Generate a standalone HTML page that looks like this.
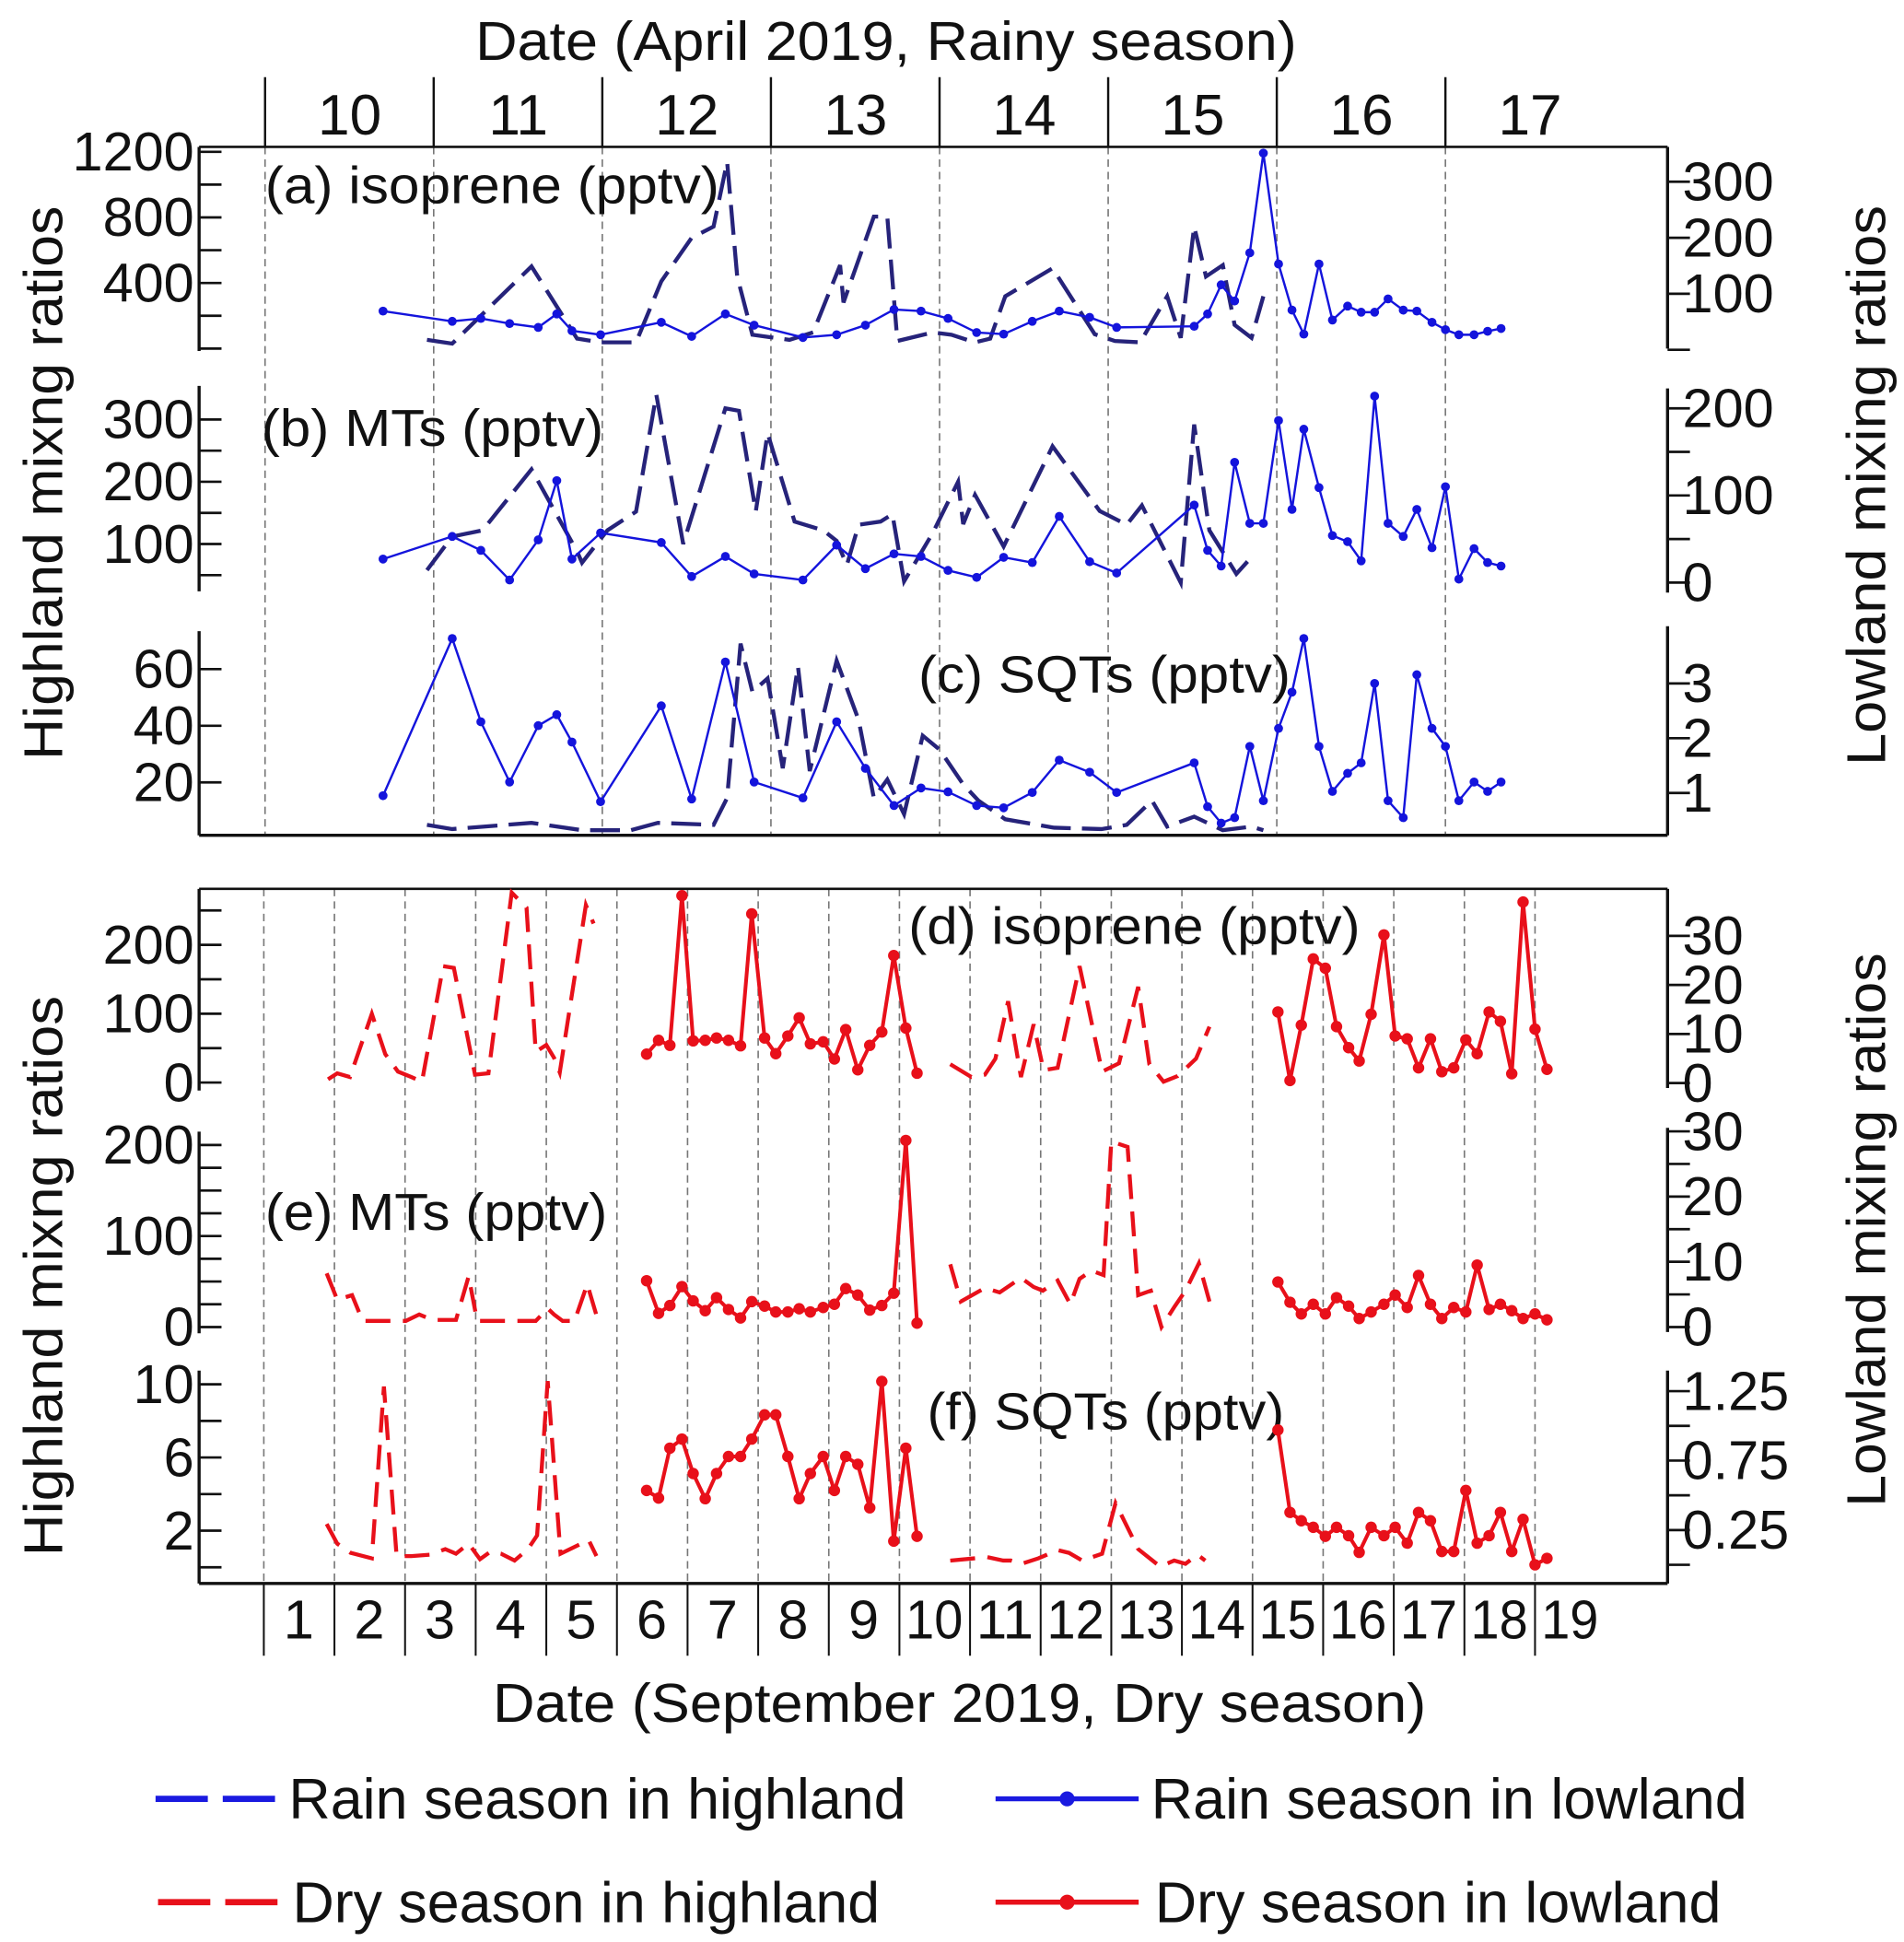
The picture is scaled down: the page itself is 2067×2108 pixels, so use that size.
<!DOCTYPE html>
<html><head><meta charset="utf-8">
<style>
html,body{margin:0;padding:0;background:#fff;}
svg{display:block;}
text{font-family:"Liberation Sans",Arial,sans-serif;fill:#111;}
</style></head>
<body>
<svg id="chart" xmlns="http://www.w3.org/2000/svg" width="2067" height="2108" viewBox="0 0 1530 1560" preserveAspectRatio="none">
<rect x="0" y="0" width="1530" height="1560" fill="#fff"/>
</svg>
<script>
// ===== April (rainy season) data =====
const aprDays = [10,11,12,13,14,15,16,17];
const aprLowT = [10.70,11.11,11.28,11.45,11.62,11.73,11.82,11.99,12.35,12.53,12.73,12.90,13.19,13.39,13.56,13.73,13.89,14.05,14.22,14.38,14.55,14.71,14.89,15.05,15.51,15.59,15.67,15.75,15.84,15.92,16.01,16.09,16.16,16.25,16.33,16.42,16.50,16.58,16.66,16.75,16.83,16.92,17.00,17.08,17.17,17.25,17.33];
const isoLowA = [69,51,56,47,40,64,34,27,49,24,64,44,22,27,44,72,69,56,31,28,51,69,58,40,42,64,116,87,173,351,153,71,28,153,53,78,67,67,91,71,69,49,36,27,27,33,38];
const mtLowA = [27,53,37,3,49,117,27,57,46,7,30,10,3,43,16,33,30,14,6,29,23,76,24,11,89,37,19,138,68,68,186,84,176,109,54,47,25,214,68,53,84,40,110,4,39,23,19];
const sqtLowA = [0.95,3.82,2.30,1.20,2.23,2.43,1.93,0.84,2.59,0.89,3.39,1.20,0.91,2.30,1.45,0.77,1.09,1.02,0.77,0.73,1.01,1.60,1.38,1.01,1.55,0.75,0.45,0.55,1.85,0.86,2.18,2.84,3.82,1.85,1.03,1.36,1.55,3.0,0.86,0.55,3.16,2.18,1.85,0.86,1.20,1.03,1.20];
const isoHighT = [10.96,11.11,11.58,11.85,11.99,12.20,12.35,12.53,12.66,12.74,12.80,12.89,13.11,13.25,13.41,13.43,13.61,13.69,13.75,13.96,14.07,14.21,14.30,14.39,14.67,14.92,15.04,15.19,15.35,15.43,15.51,15.58,15.68,15.75,15.85,15.92];
const isoHighV = [53,30,501,61,38,38,410,676,744,1139,440,84,53,99,509,281,805,805,46,99,84,38,61,319,490,87,46,38,319,65,744,440,509,144,65,319];
const mtHighT = [10.96,11.11,11.29,11.58,11.85,11.88,12.03,12.20,12.32,12.48,12.73,12.81,12.91,12.98,13.14,13.31,13.39,13.45,13.52,13.65,13.72,13.79,13.96,14.11,14.14,14.21,14.38,14.67,14.95,15.11,15.20,15.43,15.51,15.60,15.76,15.85];
const mtHighV = [58,112,122,220,88,70,122,152,340,100,318,314,152,278,136,122,105,66,131,136,148,40,118,200,132,179,96,257,153,131,162,38,292,122,52,79];
const sqtHighT = [10.96,11.11,11.58,11.88,12.17,12.33,12.66,12.74,12.82,12.89,12.98,13.07,13.16,13.23,13.39,13.52,13.61,13.69,13.79,13.90,14.00,14.14,14.23,14.39,14.68,14.96,15.11,15.26,15.35,15.51,15.68,15.85,15.92];
const sqtHighV = [5.0,3.5,5.7,3.1,3.1,5.7,5.0,14.5,69,52,56.7,25,61,24,63,42,14.5,21,8.8,36.5,31.6,19.3,13.6,7.0,4.0,3.5,5.0,13.6,4.4,7.9,3.1,4.4,3.1];

// ===== September (dry season) data =====
const sepDays = [1,2,3,4,5,6,7,8,9,10,11,12,13,14,15,16,17,18,19];
const sepLowT = [6.42,6.59,6.75,6.92,7.08,7.25,7.41,7.58,7.75,7.91,8.09,8.25,8.42,8.58,8.74,8.92,9.08,9.24,9.41,9.58,9.75,9.92,10.09,10.25,15.36,15.53,15.69,15.86,16.03,16.19,16.36,16.51,16.68,16.86,17.02,17.19,17.35,17.52,17.68,17.85,18.02,18.18,18.35,18.51,18.67,18.83,19.00,19.17];
const isoLowS = [5.9,8.7,7.7,38.2,8.6,8.7,9.2,8.7,7.6,34.5,9.2,6.0,9.6,13.3,8.0,8.4,4.9,10.9,2.7,7.7,10.4,26.0,11.2,2.0,14.5,0.5,11.8,25.3,23.4,11.5,7.2,4.5,14.0,30.2,9.6,9.0,3.1,9.0,2.3,3.1,8.8,6.0,14.5,12.6,1.9,36.9,11.0,2.8];
const mtLowS = [7.1,2.1,3.3,6.2,4.0,2.5,4.5,2.7,1.4,3.9,3.2,2.3,2.3,2.8,2.3,3.0,3.5,5.9,4.9,2.6,3.3,5.2,28.6,0.6,6.9,3.8,2.0,3.5,2.0,4.5,3.2,1.3,2.3,3.5,4.9,3.0,7.9,3.5,1.3,3.0,2.3,9.5,2.7,3.5,2.5,1.3,2.0,1.1];
const sqtLowS = [0.535,0.48,0.84,0.905,0.657,0.476,0.657,0.78,0.78,0.905,1.08,1.08,0.78,0.476,0.657,0.78,0.535,0.78,0.723,0.41,1.32,0.17,0.84,0.205,0.97,0.377,0.317,0.27,0.205,0.27,0.21,0.09,0.27,0.21,0.27,0.156,0.377,0.317,0.096,0.096,0.535,0.156,0.21,0.377,0.096,0.327,0.0,0.047];
const isoHighST = [1.91,2.04,2.22,2.53,2.72,2.90,3.09,3.24,3.54,3.69,3.99,4.18,4.51,4.59,4.72,4.85,5.00,5.11,5.19,5.56,5.67,10.72,11.02,11.21,11.36,11.54,11.72,11.90,12.04,12.24,12.55,12.87,13.11,13.38,13.54,13.74,13.94,14.20,14.39];
const isoHighSV = [4.7,13.4,8.0,99.8,41.2,15.9,8,1.3,169,166.5,11.4,13.4,276,267.6,254,44.5,54.6,36,14.6,257.7,231,26.6,8,11.4,34.7,118,8,84.6,18,21.3,169,15.9,28,139,26.6,1.3,9.4,34.7,81.2];
const mtHighST = [1.89,2.04,2.25,2.40,2.79,3.01,3.20,3.39,3.72,3.90,4.02,4.85,5.02,5.11,5.23,5.40,5.58,5.73,10.72,10.87,11.21,11.42,11.72,11.90,12.03,12.24,12.42,12.55,12.72,12.89,13.00,13.23,13.38,13.56,13.71,13.90,14.05,14.24,14.39];
const mtHighSV = [59,30,35,6.7,6.7,6.7,13.8,7.8,7.8,55.7,6.7,6.7,20.4,13.8,6.7,6.7,47,7.8,69,28,43,38,54,44,40,51,25,53,62,57,204,198,35,40,0,23,40,70,28];
const sqtHighST = [1.89,2.04,2.23,2.53,2.70,2.88,3.09,3.35,3.57,3.72,3.90,4.06,4.21,4.36,4.55,4.74,4.87,5.02,5.20,5.60,5.71,10.72,11.06,11.24,11.47,11.58,11.73,11.97,12.24,12.40,12.59,12.87,13.06,13.38,13.69,13.89,14.05,14.22,14.33];
const sqtHighSV = [2.37,1.29,0.79,0.49,9.88,0.61,0.61,0.69,0.99,0.74,1.29,0.44,0.86,0.74,0.37,0.99,1.74,10.18,0.74,1.49,0.61,0.37,0.49,0.56,0.37,0.37,0.19,0.49,0.94,0.79,0.37,0.74,3.5,0.99,0.04,0.37,0.19,0.69,0.37];

// tick values
const isoLeftTicksA = [0,200,400,600,800,1000,1200];
const isoLeftLabelsA = [400,800,1200];
const isoRightTicksA = [0,100,200,300];
const isoRightLabelsA = [100,200,300];
const mtLeftTicksA = [50,100,150,200,250,300];
const mtLeftLabelsA = [100,200,300];
const mtRightTicksA = [0,50,100,150,200];
const mtRightLabelsA = [0,100,200];
const sqtLeftTicksA = [20,40,60];
const sqtLeftLabelsA = [20,40,60];
const sqtRightTicksA = [1,2,3];
const sqtRightLabelsA = [1,2,3];
const isoLeftTicksS = [0,50,100,150,200,250];
const isoLeftLabelsS = [0,100,200];
const isoRightTicksS = [0,10,20,30];
const isoRightLabelsS = [0,10,20,30];
const mtLeftTicksS = [0,25,50,75,100,125,150,175,200];
const mtLeftLabelsS = [0,100,200];
const mtRightTicksS = [0,5,10,15,20,25,30];
const mtRightLabelsS = [0,10,20,30];
const sqtLeftTicksS = [0,2,4,6,8,10];
const sqtLeftLabelsS = [2,6,10];
const sqtRightTicksS = [0,0.25,0.5,0.75,1.0,1.25];
const sqtRightLabelsS = [0.25,0.75,1.25];

const NS = "http://www.w3.org/2000/svg";
const svg = document.getElementById('chart');
function mk(tag, attrs, parent){
  const e = document.createElementNS(NS, tag);
  for (const k in attrs) e.setAttribute(k, attrs[k]);
  (parent||svg).appendChild(e);
  return e;
}
const X0 = 160, X1 = 1340;
const xA = d => 213 + (d - 10) * 135.5;
const xS = d => 212 + (d - 1) * 56.75;
const NAVY = '#26237a', BLUE = '#1414dc', RED = '#e8101a';

function txt(str, x, y, size, anchor, parent, tl){
  const t = mk('text', {x:x, y:y, 'font-size':size, 'text-anchor':anchor||'start'}, parent);
  if (tl){ t.setAttribute('textLength', tl); t.setAttribute('lengthAdjust','spacingAndGlyphs'); }
  t.textContent = str;
  return t;
}

// ---------- frames ----------
function frame(top, bot, days, xf, name){
  const g = mk('g', {});
  
  
  days.forEach(d => {
    const l = mk('line', {x1:xf(d), x2:xf(d), y1:top, y2:bot, stroke:'#777', 'stroke-width':1.2, 'stroke-dasharray':'6 4'}, g);
    
    
  });
  const t = mk('line', {x1:X0, x2:X1, y1:top, y2:top, stroke:'#111', 'stroke-width':2}, g);
  
  
  const b = mk('line', {x1:X0, x2:X1, y1:bot, y2:bot, stroke:'#111', 'stroke-width':2.5}, g);
  
  
}
frame(118, 671, aprDays, xA, 'rainy');
frame(714, 1272, sepDays, xS, 'dry');

// top date axis (April)
const topAx = mk('g', {});


aprDays.forEach(d => {
  const l = mk('line', {x1:xA(d), x2:xA(d), y1:62, y2:118, stroke:'#111', 'stroke-width':1.8}, topAx);
  
  
  const t = txt(String(d), xA(d) + 68, 108, 46, 'middle', topAx);
  
  
});
const tt = txt('Date (April 2019, Rainy season)', 712, 48, 44, 'middle', topAx, 660);



// bottom date axis (September)
const botAx = mk('g', {});


sepDays.forEach(d => {
  const l = mk('line', {x1:xS(d), x2:xS(d), y1:1272, y2:1330, stroke:'#111', 'stroke-width':1.5}, botAx);
  
  
  const s = String(d);
  const t = txt(s, xS(d) + 28, 1316, 44, 'middle', botAx, s.length > 1 ? 46 : null);
  
  
});
const bt = txt('Date (September 2019, Dry season)', 771, 1383, 44, 'middle', botAx, 750);



// axis titles
function vtitle(str, x, cy, len, name){
  const t = mk('text', {x:0, y:0, 'font-size':44, 'text-anchor':'middle', transform:'translate(' + x + ',' + cy + ') rotate(-90)', textLength:len, lengthAdjust:'spacingAndGlyphs'});
  t.textContent = str;
  
  
}
vtitle('Highland mixng ratios', 50, 388, 445, 'left-axis-title-rainy');
vtitle('Highland mixng ratios', 50, 1025, 450, 'left-axis-title-dry');
vtitle('Lowland mixing ratios', 1515, 390, 450, 'right-axis-title-rainy');
vtitle('Lowland mixing ratios', 1515, 988, 445, 'right-axis-title-dry');

// ---------- panels ----------
function panel(cfg){
  const g = mk('g', {});
  
  
  const yL = v => cfg.L.z - v * cfg.L.s;
  const yR = v => cfg.R.z - v * cfg.R.s;
  // left spine
  const ls = mk('line', {x1:X0, x2:X0, y1:cfg.spL[0], y2:cfg.spL[1], stroke:'#111', 'stroke-width':2.5}, g);
  
  
  cfg.L.ticks.forEach(v => {
    const l = mk('line', {x1:X0, x2:X0 + 18, y1:yL(v), y2:yL(v), stroke:'#111', 'stroke-width':2}, g);
    
    
  });
  cfg.L.labels.forEach(v => {
    const t = txt(String(v), 156, yL(v) + 15, 44, 'end', g);
    
    
  });
  const rs = mk('line', {x1:X1, x2:X1, y1:cfg.spR[0], y2:cfg.spR[1], stroke:'#111', 'stroke-width':2.5}, g);
  
  
  cfg.R.ticks.forEach(v => {
    const l = mk('line', {x1:X1, x2:X1 + 18, y1:yR(v), y2:yR(v), stroke:'#111', 'stroke-width':2}, g);
    
    
  });
  cfg.R.labels.forEach(v => {
    const t = txt(String(v), 1352, yR(v) + 15, 44, 'start', g);
    
    
  });
  const lab = txt(cfg.label, cfg.lx, cfg.ly, 42, 'start', g, cfg.lw);
  
  

  // highland dashed series (left axis), split on gaps
  let segs = [], cur = [];
  cfg.hT.forEach((t, i) => {
    if (i > 0 && t - cfg.hT[i-1] > 2){ segs.push(cur); cur = []; }
    cur.push([cfg.xf(t), yL(cfg.hV[i])]);
  });
  segs.push(cur);
  segs.forEach(s => {
    const p = mk('polyline', {points:s.map(q => q[0].toFixed(1) + ',' + q[1].toFixed(1)).join(' '), fill:'none', stroke:cfg.hc, 'stroke-width':3.2, 'stroke-dasharray':cfg.dash, 'stroke-linejoin':'miter'}, g);
    
    
  });
  // lowland solid series (right axis)
  segs = []; cur = [];
  cfg.lT.forEach((t, i) => {
    if (i > 0 && t - cfg.lT[i-1] > 2){ segs.push(cur); cur = []; }
    cur.push([cfg.xf(t), yR(cfg.lV[i])]);
  });
  segs.push(cur);
  segs.forEach(s => {
    const p = mk('polyline', {points:s.map(q => q[0].toFixed(1) + ',' + q[1].toFixed(1)).join(' '), fill:'none', stroke:cfg.lc, 'stroke-width':cfg.lw2, 'stroke-linejoin':'round'}, g);
    
    
    s.forEach(q => {
      const c = mk('circle', {cx:q[0].toFixed(1), cy:q[1].toFixed(1), r:cfg.r, fill:cfg.lc}, g);
      
      
    });
  });
}

panel({id:'a-isoprene-rainy', xf:xA, spL:[118,282], spR:[118,280], label:'(a) isoprene (pptv)', lx:213, ly:163, lw:365,
  L:{z:280, s:0.1317, ticks:isoLeftTicksA, labels:isoLeftLabelsA}, R:{z:281, s:0.45, ticks:isoRightTicksA, labels:isoRightLabelsA},
  hT:isoHighT, hV:isoHighV, lT:aprLowT, lV:isoLowA, hc:NAVY, lc:BLUE, dash:'24 9', lw2:1.8, r:3.6});
panel({id:'b-mts-rainy', xf:xA, spL:[310,475], spR:[312,476], label:'(b) MTs (pptv)', lx:210, ly:358, lw:275,
  L:{z:487, s:0.5, ticks:mtLeftTicksA, labels:mtLeftLabelsA}, R:{z:468, s:0.7, ticks:mtRightTicksA, labels:mtRightLabelsA},
  hT:mtHighT, hV:mtHighV, lT:aprLowT, lV:mtLowA, hc:NAVY, lc:BLUE, dash:'24 9', lw2:1.8, r:3.6});
panel({id:'c-sqts-rainy', xf:xA, spL:[507,671], spR:[503,671], label:'(c) SQTs (pptv)', lx:738, ly:556, lw:299,
  L:{z:674, s:2.275, ticks:sqtLeftTicksA, labels:sqtLeftLabelsA}, R:{z:681, s:44, ticks:sqtRightTicksA, labels:sqtRightLabelsA},
  hT:sqtHighT, hV:sqtHighV, lT:aprLowT, lV:sqtLowA, hc:NAVY, lc:BLUE, dash:'24 9', lw2:1.8, r:3.6});
panel({id:'d-isoprene-dry', xf:xS, spL:[714,876], spR:[714,874], label:'(d) isoprene (pptv)', lx:730, ly:758, lw:363,
  L:{z:869.6, s:0.553, ticks:isoLeftTicksS, labels:isoLeftLabelsS}, R:{z:870, s:3.94, ticks:isoRightTicksS, labels:isoRightLabelsS},
  hT:isoHighST, hV:isoHighSV, lT:sepLowT, lV:isoLowS, hc:RED, lc:RED, dash:'20 10', lw2:3, r:4.6});
panel({id:'e-mts-dry', xf:xS, spL:[909,1071], spR:[906,1070], label:'(e) MTs (pptv)', lx:213, ly:988, lw:275,
  L:{z:1066, s:0.731, ticks:mtLeftTicksS, labels:mtLeftLabelsS}, R:{z:1066, s:5.24, ticks:mtRightTicksS, labels:mtRightLabelsS},
  hT:mtHighST, hV:mtHighSV, lT:sepLowT, lV:mtLowS, hc:RED, lc:RED, dash:'20 10', lw2:3, r:4.6});
panel({id:'f-sqts-dry', xf:xS, spL:[1101,1272], spR:[1101,1272], label:'(f) SQTs (pptv)', lx:745, ly:1148, lw:287,
  L:{z:1259, s:14.7, ticks:sqtLeftTicksS, labels:sqtLeftLabelsS}, R:{z:1257, s:111.6, ticks:sqtRightTicksS, labels:sqtRightLabelsS},
  hT:sqtHighST, hV:sqtHighSV, lT:sepLowT, lV:sqtLowS, hc:RED, lc:RED, dash:'20 10', lw2:3, r:4.6});

// ---------- legend ----------
const leg = mk('g', {});


function legEntry(name, y, color, dashed, x0, x1, tx, label, tl){
  const g = mk('g', {}, leg);
  
  
  if (dashed){
    mk('line', {x1:x0, x2:x1, y1:y, y2:y, stroke:color, 'stroke-width':5, 'stroke-dasharray':'42 12'}, g);
  } else {
    mk('line', {x1:x0, x2:x1, y1:y, y2:y, stroke:color, 'stroke-width':4}, g);
    mk('circle', {cx:(x0 + x1) / 2, cy:y, r:6, fill:color}, g);
  }
  txt(label, tx, y + 16, 46, 'start', g, tl);
}
legEntry('legend-rain-highland', 1445, '#1a1ae0', true, 125, 221, 232, 'Rain season in highland', 496);
legEntry('legend-rain-lowland', 1445, '#1a1ae0', false, 800, 915, 925, 'Rain season in lowland', 479);
legEntry('legend-dry-highland', 1528, RED, true, 127, 223, 235, 'Dry season in highland', 472);
legEntry('legend-dry-lowland', 1528, RED, false, 800, 915, 928, 'Dry season in lowland', 455);
</script>
</body></html>
